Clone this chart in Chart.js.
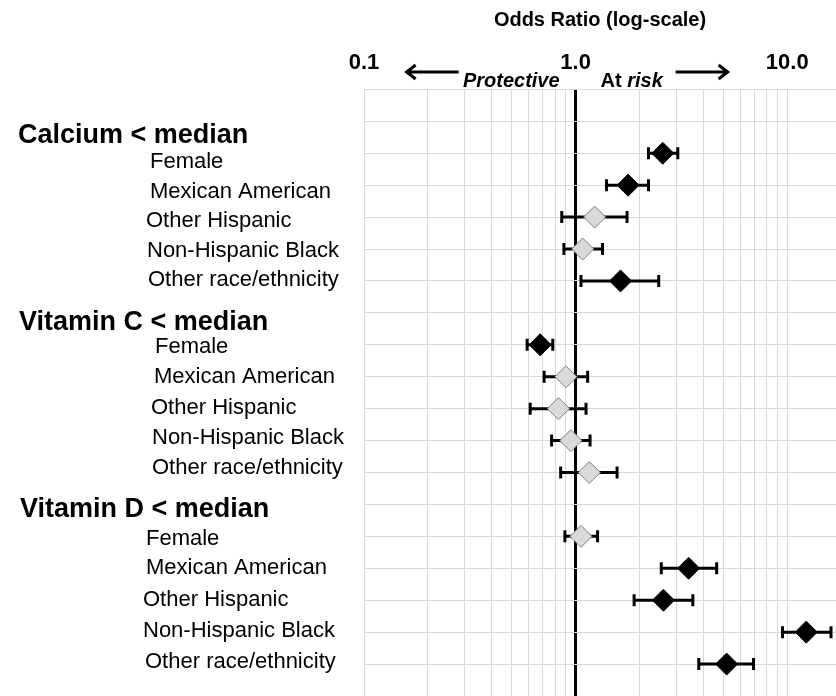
<!DOCTYPE html>
<html>
<head>
<meta charset="utf-8">
<script src="https://cdn.jsdelivr.net/npm/chart.js@4.4.1/dist/chart.umd.min.js"></script>
<style>
  html, body { margin: 0; padding: 0; background: #fff; }
</style>
</head>
<body>
<canvas id="forest-chart" width="836" height="696"></canvas>
<script>
// groups and subgroups
var groups = ['Calcium < median', 'Vitamin C < median', 'Vitamin D < median'];
var subgroups = ['Female', 'Mexican American', 'Other Hispanic', 'Non-Hispanic Black', 'Other race/ethnicity'];

// odds ratios and 95% CI
var calciumOR   = [2.58, 1.77, 1.23, 1.08, 1.63];
var calciumLow  = [2.21, 1.40, 0.86, 0.88, 1.06];
var calciumHigh = [3.04, 2.21, 1.75, 1.34, 2.47];

var vitCOR   = [0.68, 0.90, 0.83, 0.95, 1.16];
var vitCLow  = [0.59, 0.71, 0.61, 0.77, 0.85];
var vitCHigh = [0.78, 1.14, 1.12, 1.17, 1.57];

var vitDOR   = [1.06, 3.42, 2.60, 12.3, 5.17];
var vitDLow  = [0.89, 2.54, 1.89, 9.50, 3.82];
var vitDHigh = [1.27, 4.64, 3.58, 16.1, 6.93];

var tickLabels = ['0.1', '1.0', '10.0'];

// text box layout on the left (x of text start, baseline)
var headingX = [18, 19, 20];
var headingY = [143, 330, 517];
var subX = [[150, 150, 146, 147, 148], [155, 154, 151, 152, 152], [146, 146, 143, 143, 145]];
var subY = [[168, 198, 227, 257, 286], [353, 383, 414, 444, 474], [545, 574, 606, 637, 668]];

var FONT = "'Liberation Sans', Arial, sans-serif";
Chart.defaults.font.family = FONT;

var orData = [calciumOR, vitCOR, vitDOR];
var lowData = [calciumLow, vitCLow, vitDLow];
var highData = [calciumHigh, vitCHigh, vitDHigh];

var diamonds = [], fills = [], strokes = [], ciSets = [];
for (var g = 0; g < groups.length; g++) {
    for (var s = 0; s < subgroups.length; s++) {
        var row = 2 + g * 6 + s;
        var lo = lowData[g][s], hi = highData[g][s];
        var sig = lo > 1 || hi < 1;
        diamonds.push({ x: orData[g][s], y: row });
        fills.push(sig ? '#000000' : '#d9d9d9');
        strokes.push(sig ? '#000000' : '#808080');
        ciSets.push({
            data: [{ x: lo, y: row }, { x: hi, y: row }],
            showLine: true,
            borderColor: '#000',
            borderWidth: 3,
            pointStyle: 'line',
            rotation: 90,
            pointRadius: 6,
            pointBorderWidth: 3,
            pointBorderColor: '#000',
            order: 2
        });
    }
}

var datasets = [{
    data: diamonds,
    pointStyle: 'rectRot',
    pointRadius: 11,
    pointBackgroundColor: fills,
    pointBorderColor: strokes,
    pointBorderWidth: 1,
    order: 1
}].concat(ciSets);

var sideLabels = {
    id: 'sideLabels',
    afterDraw: function (chart) {
        var ctx = chart.ctx;
        ctx.save();
        ctx.fillStyle = '#000';
        ctx.textBaseline = 'alphabetic';
        ctx.textAlign = 'left';
        for (var g = 0; g < groups.length; g++) {
            ctx.font = 'bold 27px ' + FONT;
            ctx.fillText(groups[g], headingX[g], headingY[g]);
            ctx.font = '22px ' + FONT;
            for (var s = 0; s < subgroups.length; s++) {
                ctx.fillText(subgroups[s], subX[g][s], subY[g][s]);
            }
        }
        ctx.restore();
    }
};

var riskArrows = {
    id: 'riskArrows',
    afterDraw: function (chart) {
        var ctx = chart.ctx;
        var x1 = chart.scales.x.getPixelForValue(1);
        ctx.save();
        ctx.fillStyle = '#000';
        ctx.textBaseline = 'alphabetic';
        ctx.font = 'italic bold 20px ' + FONT;
        ctx.textAlign = 'right';
        ctx.fillText('Protective', x1 - 16, 87);
        ctx.textAlign = 'left';
        ctx.font = 'bold 20px ' + FONT;
        ctx.fillText('At ', x1 + 25, 87);
        var w = ctx.measureText('At ').width;
        ctx.font = 'italic bold 20px ' + FONT;
        ctx.fillText('risk', x1 + 25 + w, 87);

        ctx.strokeStyle = '#000';
        ctx.lineWidth = 3;
        ctx.lineCap = 'butt';
        var ay = 72;
        // left arrow
        ctx.beginPath();
        ctx.moveTo(x1 - 117, ay);
        ctx.lineTo(x1 - 169, ay);
        ctx.moveTo(x1 - 160, ay - 7);
        ctx.lineTo(x1 - 169, ay);
        ctx.lineTo(x1 - 160, ay + 7);
        ctx.stroke();
        // right arrow
        ctx.beginPath();
        ctx.moveTo(x1 + 100, ay);
        ctx.lineTo(x1 + 152, ay);
        ctx.moveTo(x1 + 143, ay - 7);
        ctx.lineTo(x1 + 152, ay);
        ctx.lineTo(x1 + 143, ay + 7);
        ctx.stroke();
        ctx.restore();
    }
};

var config = {
    type: 'scatter',
    data: { datasets: datasets },
    options: {
        responsive: false,
        animation: false,
        layout: { autoPadding: false, padding: { left: 364, right: 0, top: 0, bottom: 0 } },
        plugins: {
            legend: { display: false },
            tooltip: { enabled: false }
        },
        scales: {
            x: {
                type: 'logarithmic',
                position: 'top',
                min: 0.1,
                max: 17,
                afterBuildTicks: function (scale) {
                    var t = [];
                    [0.1, 1].forEach(function (base) {
                        for (var k = 1; k <= 9; k++) t.push({ value: +(base * k).toFixed(2) });
                    });
                    t.push({ value: 10 });
                    scale.ticks = t;
                },
                ticks: {
                    autoSkip: false,
                    maxRotation: 0,
                    padding: 13,
                    color: '#000',
                    font: { size: 22, weight: 'bold' },
                    callback: function (value) {
                        if (value === 0.1) return tickLabels[0];
                        if (value === 1) return tickLabels[1];
                        if (value === 10) return tickLabels[2];
                        return '';
                    }
                },
                grid: {
                    drawTicks: false,
                    color: function (c) { return c.tick && c.tick.value === 1 ? '#000' : '#d9d9d9'; },
                    lineWidth: function (c) { return c.tick && c.tick.value === 1 ? 3 : 1; }
                },
                border: { color: '#d9d9d9' },
                title: {
                    display: true,
                    text: 'Odds Ratio (log-scale)',
                    color: '#000',
                    font: { size: 20, weight: 'bold' },
                    padding: { top: 8, bottom: 5 }
                }
            },
            y: {
                type: 'linear',
                min: 0,
                max: 19,
                reverse: true,
                ticks: { display: false, stepSize: 1 },
                grid: { drawTicks: false, color: '#d9d9d9', lineWidth: 1 },
                border: { color: '#d9d9d9' }
            }
        }
    },
    plugins: [sideLabels, riskArrows]
};

window.onload = function () {
    var ctx = document.getElementById('forest-chart').getContext('2d');
    window.forestChart = new Chart(ctx, config);
};
</script>
</body>
</html>
